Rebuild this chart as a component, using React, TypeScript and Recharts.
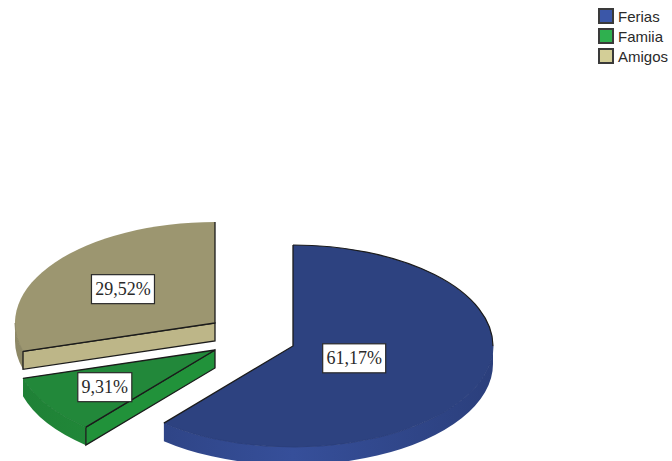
import React from "react";
import { PieChart, Pie, Legend } from "recharts";

// Slice values, in percent, running clockwise from twelve o'clock.
const categories = ["Ferias", "Famiia", "Amigos"];
const shares = [61.17, 9.31, 29.52];

// Legend swatch, top face, cut face and the two outer-wall tones for each slice.
const swatchColors = ["#3b57a8", "#2fb04f", "#d3ce97"];
const topColors = ["#2d4280", "#22883a", "#9c9670"];
const cutColors = ["#344c95", "#21923a", "#bdb688"];
const wallLight = ["#364f9a", "#23943c", "#a9a37a"];
const wallDark = ["#2b3f7c", "#1f8036", "#8d8866"];

const pieData = categories.map((name, i) => ({ name, value: shares[i], fill: swatchColors[i] }));

// Projection of the tilted disc.
const SQUASH = 0.505;
const DEPTH = 18;
const EDGE = "#1b1b1b";
// Each exploded slice is shifted away from the shared pie centre.
const explode: Record<string, [number, number]> = {
  Ferias: [0, 0],
  Famiia: [-78, 4],
  Amigos: [-78, -23],
};

const rad = (d: number) => (d * Math.PI) / 180;

function point(cx: number, cy: number, r: number, angle: number) {
  return [cx + r * Math.cos(rad(angle)), cy - r * SQUASH * Math.sin(rad(angle))];
}

// Elliptical arc running clockwise from angle a to angle b (a > b).
function arcTo(cx: number, cy: number, r: number, a: number, b: number) {
  const [x, y] = point(cx, cy, r, b);
  return `A${r} ${r * SQUASH} 0 ${a - b > 180 ? 1 : 0} 1 ${x} ${y}`;
}

function arcBack(cx: number, cy: number, r: number, a: number, b: number) {
  const [x, y] = point(cx, cy, r, a);
  return `A${r} ${r * SQUASH} 0 ${a - b > 180 ? 1 : 0} 0 ${x} ${y}`;
}

function Slice3D(props: any) {
  const { cx: cx0, cy: cy0, outerRadius: r, startAngle: a0, endAngle: a1, name, payload } = props;
  const key = name ?? payload?.name;
  const i = categories.indexOf(key);
  const [dx, dy] = explode[key];
  const cx = cx0 + dx;
  const cy = cy0 + dy;
  const [sx, sy] = point(cx, cy, r, a0);
  const [ex, ey] = point(cx, cy, r, a1);
  const gradId = `wall-${i}`;

  // The outer wall only shows along the lower half of the ellipse.
  const turn = Math.floor(a1 / 360) * 360;
  const lowHi = Math.min(a0, turn + 360);
  const lowLo = Math.max(a1, turn + 180);
  const hasWall = lowHi > lowLo;
  const [wx, wy] = point(cx, cy, r, lowHi);

  const radial = (a: number) => {
    const [px, py] = point(cx, cy, r, a);
    return `M${cx} ${cy}L${px} ${py}L${px} ${py + DEPTH}L${cx} ${cy + DEPTH}Z`;
  };
  const startFace = Math.cos(rad(a0)) < -1e-6;
  const endFace = Math.cos(rad(a1)) > 1e-6;

  // Upper part of the rim carries the dark outline, the lower part a faint one.
  const upperFrom = a0;
  const upperTo = Math.max(a1, lowHi);
  const hasUpper = a0 > lowHi;
  const [ux, uy] = point(cx, cy, r, upperFrom);

  return (
    <g>
      <defs>
        <linearGradient id={gradId} gradientUnits="userSpaceOnUse" x1={cx - r} x2={cx + r} y1={0} y2={0}>
          <stop offset="0" stopColor={wallDark[i]} />
          <stop offset="0.5" stopColor={wallLight[i]} />
          <stop offset="1" stopColor={wallDark[i]} />
        </linearGradient>
      </defs>
      {hasWall && (
        <path
          fill={`url(#${gradId})`}
          d={`M${wx} ${wy}${arcTo(cx, cy, r, lowHi, lowLo)}l0 ${DEPTH}${arcBack(cx, cy + DEPTH, r, lowHi, lowLo)}Z`}
        />
      )}
      {startFace && <path d={radial(a0)} fill={cutColors[i]} stroke={EDGE} strokeWidth={1.3} />}
      {endFace && <path d={radial(a1)} fill={cutColors[i]} stroke={EDGE} strokeWidth={1.3} />}
      <path
        fill={topColors[i]}
        d={`M${cx} ${cy}L${sx} ${sy}${arcTo(cx, cy, r, a0, a1)}Z`}
      />
      {hasWall && (
        <path
          fill="none"
          stroke={wallDark[i]}
          strokeWidth={1}
          d={`M${wx} ${wy}${arcTo(cx, cy, r, lowHi, lowLo)}`}
        />
      )}
      {hasUpper && (
        <path
          fill="none"
          stroke={EDGE}
          strokeWidth={1.2}
          d={`M${ux} ${uy}${arcTo(cx, cy, r, upperFrom, upperTo)}`}
        />
      )}
      <path
        fill="none"
        stroke={EDGE}
        strokeWidth={1.3}
        strokeLinejoin="miter"
        d={`M${sx} ${sy}L${cx} ${cy}L${ex} ${ey}`}
      />
    </g>
  );
}

// White value tag sitting on the centroid of the slice's top face.
function ValueTag(props: any) {
  const { cx: cx0, cy: cy0, outerRadius: r, startAngle: a0, endAngle: a1, name, value, payload } = props;
  const key = name ?? payload?.name;
  const [dx, dy] = explode[key];
  const sweep = rad(Math.abs(a0 - a1));
  const dist = (4 / 3) * r * (Math.sin(sweep / 2) / sweep);
  const [x, py] = point(cx0 + dx, cy0 + dy, dist, (a0 + a1) / 2);
  const y = py + 1;
  const text = `${Number(value).toFixed(2).replace(".", ",")}%`;
  const w = 9 * (text.length - 2) + 27;
  const h = 29;
  return (
    <g>
      <rect x={x - w / 2} y={y - h / 2} width={w} height={h} fill="#ffffff" stroke="#2a2a2a" strokeWidth={1.2} />
      <text
        x={x}
        y={y + 6}
        textAnchor="middle"
        fontFamily="'Liberation Serif', serif"
        fontSize={18}
        fill="#2a2a2a"
      >
        {text}
      </text>
    </g>
  );
}

function LegendList(props: any) {
  const items = props.payload ?? [];
  return (
    <div style={{ fontFamily: "'Liberation Sans', sans-serif", fontSize: 15, color: "#2a2a2a" }}>
      {items.map((entry: any) => (
        <div key={entry.value} style={{ display: "flex", alignItems: "center", height: 20 }}>
          <span
            style={{
              display: "inline-block",
              boxSizing: "border-box",
              width: 16,
              height: 16,
              background: swatchColors[categories.indexOf(entry.value)],
              border: "2px solid #3a3a3a",
              marginRight: 4,
            }}
          />
          <span>{entry.value}</span>
        </div>
      ))}
    </div>
  );
}

export default function App() {
  return (
    <div style={{ width: 672, height: 461, overflow: "hidden", background: "#ffffff" }}>
      <style>{"body{margin:0}"}</style>
      <PieChart width={672} height={461} margin={{ top: 0, right: 0, bottom: 0, left: 0 }}>
        <Pie
          data={pieData}
          dataKey="value"
          nameKey="name"
          cx={293}
          cy={346}
          innerRadius={0}
          outerRadius={200}
          startAngle={90}
          endAngle={-270}
          stroke="none"
          isAnimationActive={false}
          shape={Slice3D}
          label={ValueTag}
          labelLine={false}
        />
        <Legend
          content={LegendList}
          itemSorter={null}
          wrapperStyle={{ position: "absolute", left: 598, top: 6, width: 74, height: 62 }}
        />
      </PieChart>
    </div>
  );
}
